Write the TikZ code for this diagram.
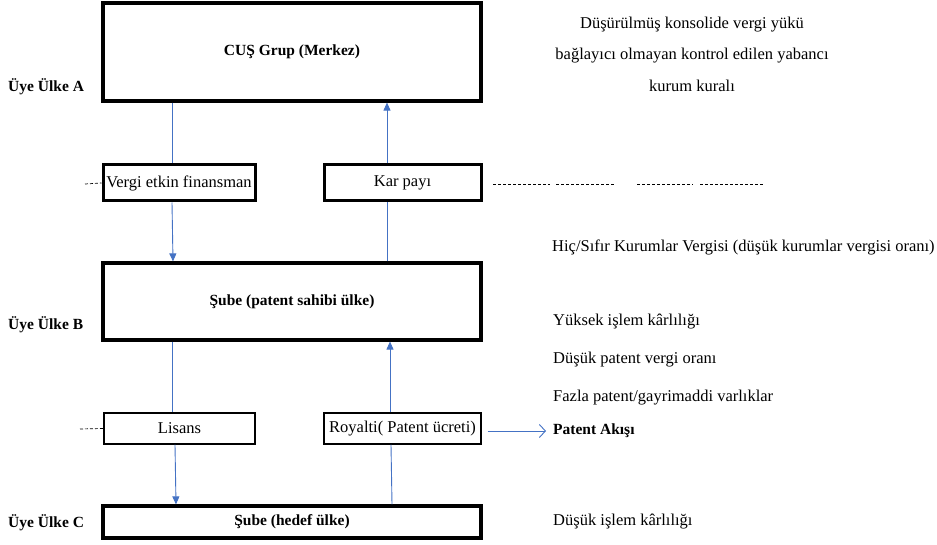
\documentclass[tikz,border=0pt]{standalone}
\usepackage{fontspec}
\setmainfont{Liberation Serif}
\usetikzlibrary{arrows.meta,positioning,calc}
\definecolor{flowblue}{RGB}{68,114,196}
\tikzset{
  bigbox/.style={draw,line width=3.2pt,inner sep=0pt,font=\bfseries\fontsize{15.5}{17}\selectfont},
  midbox/.style={draw,line width=3pt,inner sep=0pt,font=\fontsize{16.5}{18}\selectfont},
  smallbox/.style={draw,line width=1.3pt,inner sep=0pt,font=\fontsize{16.5}{18}\selectfont},
  flow/.style={flowblue,line width=0.9pt},
  flowtip/.style={flow,-{Triangle[length=8pt,width=7pt]}},
  rowlabel/.style={anchor=west,inner sep=0pt,font=\bfseries\fontsize{15.5}{17}\selectfont},
  note/.style={anchor=west,inner sep=0pt,font=\fontsize{16.5}{18}\selectfont},
  dashline/.style={line width=0.7pt,dash pattern=on 3pt off 2pt}
}
\begin{document}
\begin{tikzpicture}[x=1pt,y=-1pt]
  \useasboundingbox (0,0) rectangle (937,545);
  % Main boxes
  \node[bigbox,minimum width=378pt,minimum height=98pt] (grup) at (292,52) {CUŞ Grup (Merkez)};
  \node[bigbox,minimum width=378pt,minimum height=77pt] (sahip) at (292,301.5) {Şube (patent sahibi ülke)};
  \node[bigbox,minimum width=378pt,minimum height=32pt] (hedef) at (292,522) {Şube (hedef ülke)};
  % Flow boxes
  \node[midbox,minimum width=152pt,minimum height=36pt] (vergi) at (179,183) {Vergi etkin finansman};
  \node[midbox,minimum width=157pt,minimum height=36pt] (kar) at (402.5,183) {Kar payı};
  \node[smallbox,minimum width=151pt,minimum height=31pt] (lisans) at (179.5,428.5) {Lisans};
  \node[smallbox,minimum width=157pt,minimum height=31pt] (royalti) at (402.5,428.5) {Royalti( Patent ücreti)};

  % Row labels
  \node[rowlabel] (uyeA) at (8,87) {Üye Ülke A};
  \node[rowlabel] (uyeB) at (8,325) {Üye Ülke B};
  \node[rowlabel] (uyeC) at (8,523) {Üye Ülke C};

  % Notes on the right
  \node[align=center,inner sep=0pt,font=\fontsize{16.5}{31.5}\selectfont] (kural) at (692,54)
    {Düşürülmüş konsolide vergi yükü\\bağlayıcı olmayan kontrol edilen yabancı\\kurum kuralı};
  \node[note] (sifir) at (552,247) {Hiç/Sıfır Kurumlar Vergisi (düşük kurumlar vergisi oranı)};
  \node[note] (yuksek) at (553,322) {Yüksek işlem kârlılığı};
  \node[note] (dusuk) at (553,360) {Düşük patent vergi oranı};
  \node[note] (fazla) at (553,398) {Fazla patent/gayrimaddi varlıklar};
  \node[note,font=\bfseries\fontsize{15.5}{17}\selectfont] (akis) at (553,431) {Patent Akışı};
  \node[note] (islem) at (553,522) {Düşük işlem kârlılığı};

  % Flows
  \draw[flow] ([xshift=-120pt]grup.south) -- ([xshift=-7pt]vergi.north);
  \draw[flowtip] ([xshift=-7pt]vergi.south) -- ([xshift=-119pt]sahip.north);
  \draw[flowtip] ([xshift=-15.5pt]kar.north) -- ([xshift=95pt]grup.south);
  \draw[flow] ([xshift=95pt]sahip.north) -- ([xshift=-15.5pt]kar.south);
  \draw[flow] ([xshift=-120pt]sahip.south) -- ([xshift=-7.5pt]lisans.north);
  \draw[flowtip] ([xshift=-4.5pt]lisans.south) -- ([xshift=-116pt]hedef.north);
  \draw[flow] ([xshift=100pt]hedef.north) -- ([xshift=-11.5pt]royalti.south);
  \draw[flowtip] ([xshift=-12.5pt]royalti.north) -- ([xshift=98pt]sahip.south);
  \draw[flow,-{Straight Barb[length=6pt,width=13pt]}] ([xshift=6pt,yshift=-2.5pt]royalti.east) -- ([xshift=-7pt]akis.west);

  % Dashed separators
  \coordinate (solA) at (85,184);
  \coordinate (solC) at (80,429);
  \draw[dashline] (solA) -- (vergi.west);
  \draw[dashline] (solC) -- (lisans.west);
  \foreach \a/\b in {493/550,556/614,637/693,700/763} {
    \draw[dashline] (\a,184) -- (\b,184);
  }
\end{tikzpicture}
\end{document}
